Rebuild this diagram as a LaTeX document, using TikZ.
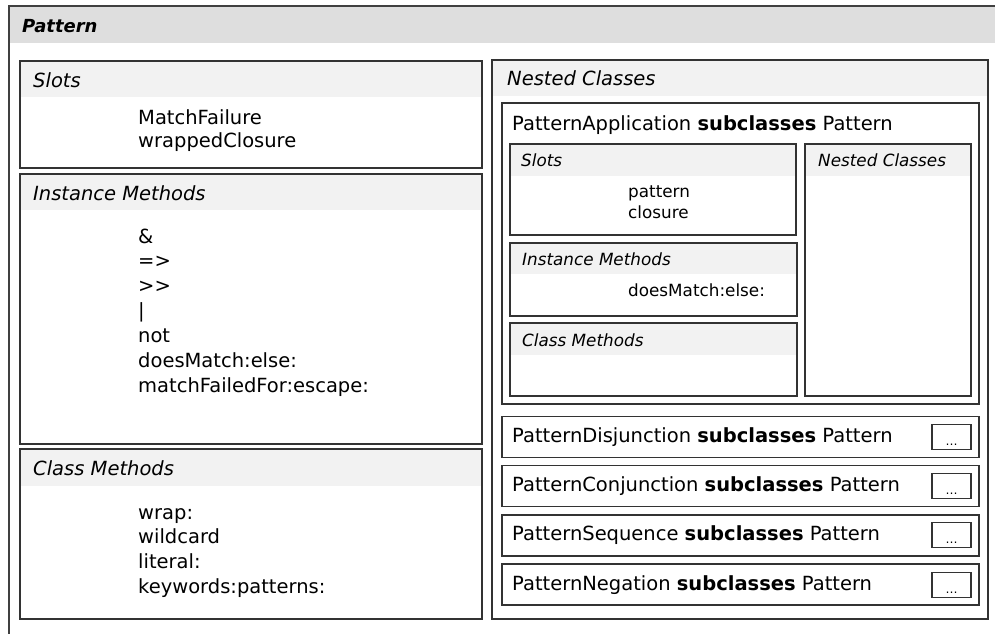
\documentclass[tikz,border=0pt]{standalone}
\usepackage{fontspec}
\setmainfont{DejaVu Sans}
\usepackage{tikz}
\usetikzlibrary{positioning}
\newcommand\mainsize{\fontsize{19.5}{24}\selectfont}
\newcommand\innersize{\fontsize{16.8}{21}\selectfont}
\newcommand\dotsize{\fontsize{12}{14}\selectfont}
\tikzset{%
        frame/.style = { draw=black!80, line width=1.4pt },
      outline/.style = { draw=black!75, line width=1.2pt },
      headbar/.style = { fill=black!5 },
       topbar/.style = { fill=black!13 },
      caption/.style = { anchor=base west, inner sep=0pt, font=\mainsize\itshape },
     icaption/.style = { anchor=base west, inner sep=0pt, font=\innersize\itshape },
       member/.style = { anchor=base west, inner sep=0pt, font=\mainsize },
      imember/.style = { anchor=base west, inner sep=0pt, font=\innersize },
       button/.style = { frame, line width=1.1pt, minimum width=39, minimum height=25,
                         inner sep=0pt, text height=18, text depth=1, font=\dotsize }
}

\begin{document}
\begin{tikzpicture}[x=1pt,y=-1pt,line join=miter]
\useasboundingbox (0,0) rectangle (995,633);
\clip (0,0) rectangle (995,633);
% outer class
\fill[topbar] (9,6) rectangle (1000,42.5);
\draw[outline] (9,650) -- (9,6) -- (1000,6);
\node[anchor=base west,inner sep=0pt,font=\fontsize{18}{20}\selectfont\bfseries\itshape] (pattern) at (22,32) {Pattern};

% left column
\fill[headbar] (20,61) rectangle (482,97);
\draw[frame] (20,61) rectangle (482,168);
\node[caption] (slots) at (33,87) {Slots};
\foreach \txt [count=\i] in {MatchFailure,wrappedClosure}
  \node[member] (slot\i) at (138,{124+23*(\i-1)}) {\txt};

\fill[headbar] (20,174) rectangle (482,210);
\draw[frame] (20,174) rectangle (482,444);
\node[caption] (imethods) at (33,200) {Instance Methods};
\foreach \txt [count=\i] in {\&,=>,>\kern0pt>,|,not,doesMatch:else:,matchFailedFor:escape:}
  \node[member] (imeth\i) at (138,{243+24.9*(\i-1)}) {\txt};

\fill[headbar] (20,449) rectangle (482,486);
\draw[frame] (20,449) rectangle (482,619);
\node[caption] (cmethods) at (33,475) {Class Methods};
\foreach \txt [count=\i] in {wrap:,wildcard,literal:,keywords:patterns:}
  \node[member] (cmeth\i) at (138,{519+24.7*(\i-1)}) {\txt};

% nested classes
\fill[headbar] (492,60) rectangle (988,96);
\draw[frame] (492,60) rectangle (988,619);
\node[caption] (nested) at (507,85) {Nested Classes};

\draw[frame] (502,103) rectangle (979,404);
\node[member] (papp) at (512,130) {PatternApplication \textbf{subclasses} Pattern};

\fill[headbar] (510,144) rectangle (796,176);
\draw[frame] (510,144) rectangle (796,235);
\node[icaption] (pslots) at (521,166) {Slots};
\node[imember] (pslot1) at (628,197) {pattern};
\node[imember] (pslot2) at (628,218) {closure};

\fill[headbar] (510,243) rectangle (797,274);
\draw[frame] (510,243) rectangle (797,316);
\node[icaption] (pimethods) at (522,265) {Instance Methods};
\node[imember] (pimeth1) at (628,296) {doesMatch:else:};

\fill[headbar] (510,323) rectangle (797,355);
\draw[frame] (510,323) rectangle (797,396);
\node[icaption] (pcmethods) at (522,346) {Class Methods};

\fill[headbar] (805,144) rectangle (971,176);
\draw[frame] (805,144) rectangle (971,396);
\node[icaption] (pnested) at (818,166) {Nested Classes};

% collapsed subclasses
\foreach \cls [count=\i] in {Disjunction,Conjunction,Sequence,Negation} {
  \pgfmathsetmacro\rowtop{416.5+49.2*(\i-1)}
  \draw[frame] (502,\rowtop) rectangle (979,{\rowtop+41});
  \node[member] (sub\i) at (512,{\rowtop+26}) {Pattern\cls{} \textbf{subclasses} Pattern};
  \node[button] (more\i) at (951.5,{\rowtop+20.5}) {…};
}
\end{tikzpicture}
\end{document}
